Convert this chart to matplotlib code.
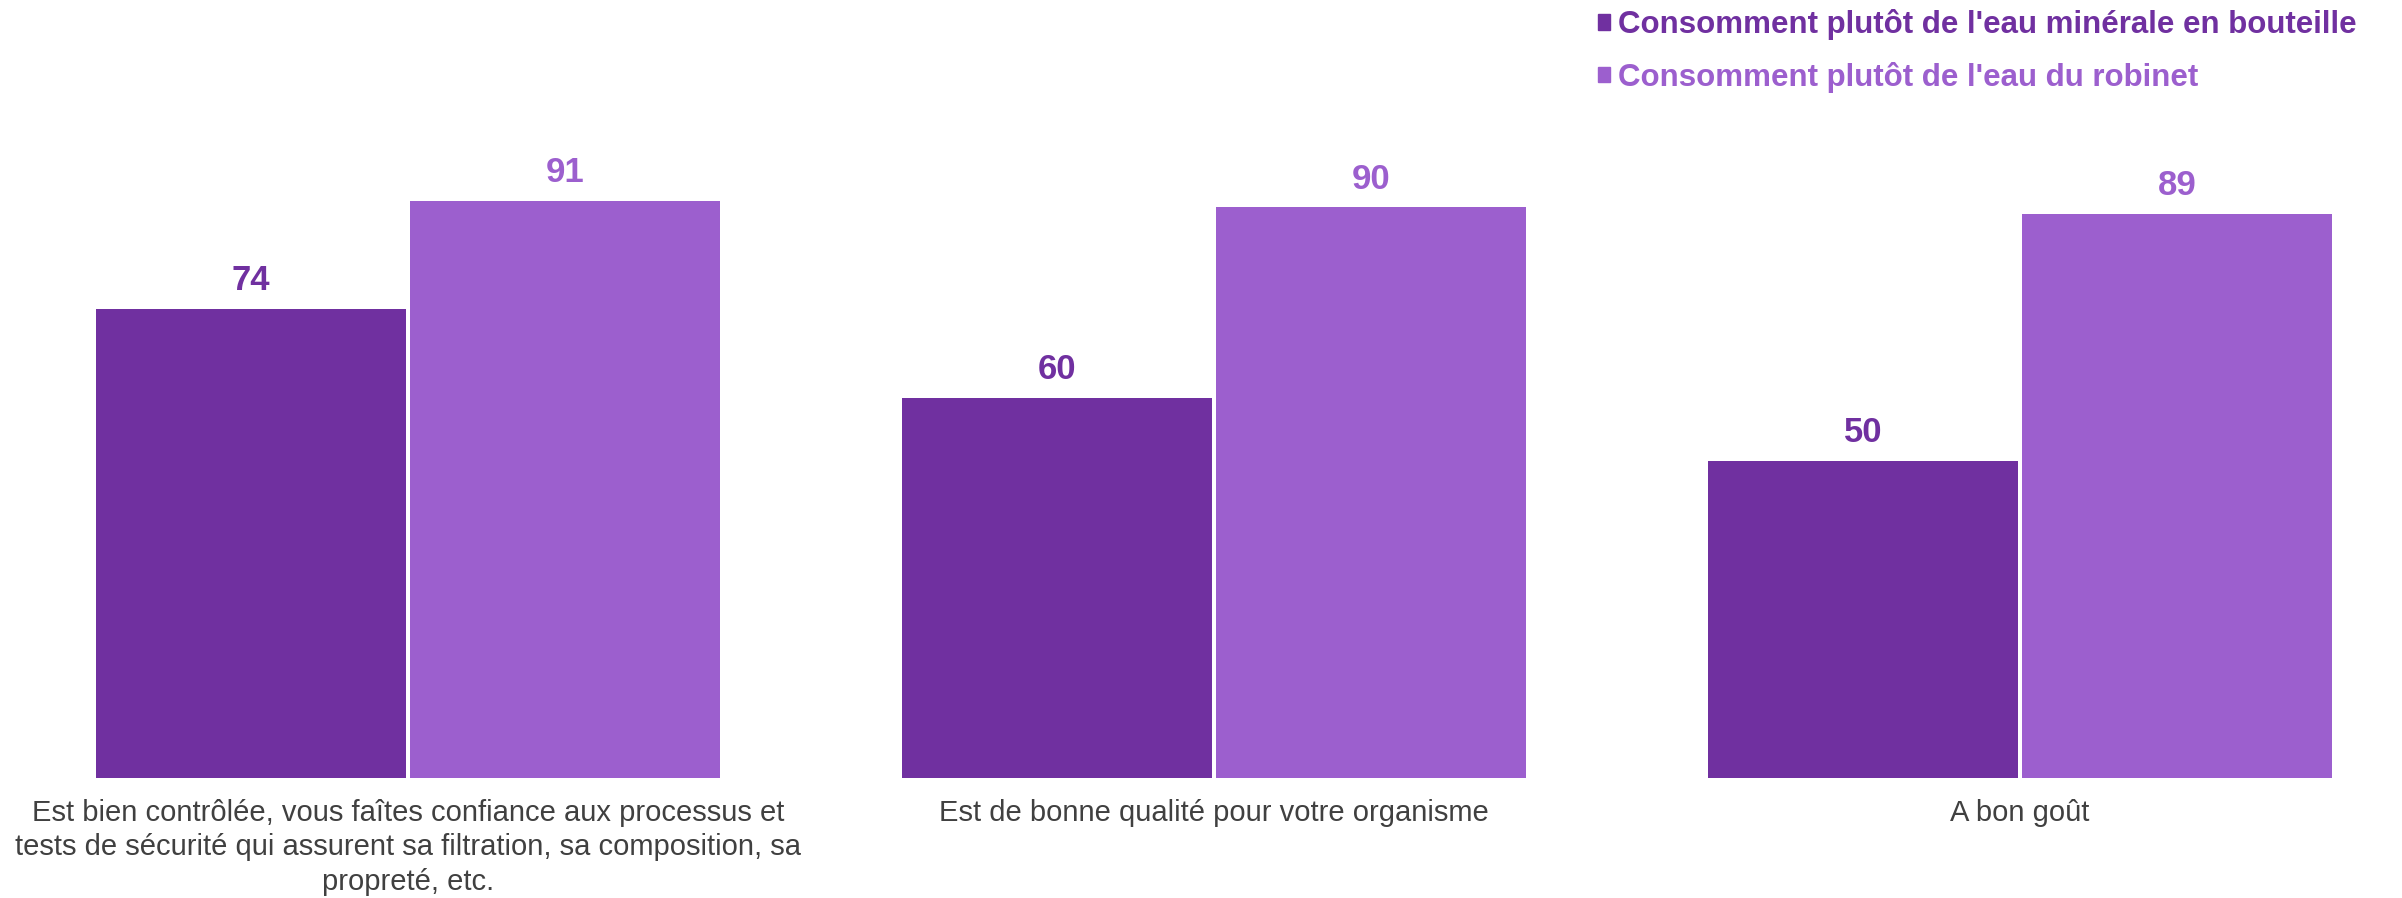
import numpy as np
import matplotlib
matplotlib.use("Agg")
from matplotlib import pyplot as plt
from matplotlib.patches import Patch

plt.rcParams['font.family'] = ['Liberation Sans', 'DejaVu Sans']

# %% donnees
categories = ["Est bien contrôlée, vous faîtes confiance aux processus et\n"
              "tests de sécurité qui assurent sa filtration, sa composition, sa\n"
              "propreté, etc.",
              "Est de bonne qualité pour votre organisme",
              "A bon goût"]
series_names = ["Consomment plutôt de l'eau minérale en bouteille",
                "Consomment plutôt de l'eau du robinet"]
bouteille = [74, 60, 50]
robinet = [91, 90, 89]

col_dark = "#7030A0"
col_light = "#9C5FCE"
col_text = "#404040"

# %% figure
fig = plt.figure(figsize=(24.02, 8.98), dpi=100)
ax = fig.add_axes([0, 120 / 898, 1, 634 / 898])

x = np.arange(len(categories))
w = 0.385
off = 0.1945

b1 = ax.bar(x - off, bouteille, w, color=col_dark)
b2 = ax.bar(x + off, robinet, w, color=col_light)

ax.bar_label(b1, padding=8.5, fontsize=25, fontweight='bold', color=col_dark)
ax.bar_label(b2, padding=8.5, fontsize=25, fontweight='bold', color=col_light)

ax.set_xlim(-408 / 806, (2402 - 408) / 806)
ax.set_ylim(0, 100)
ax.set_xticks(x)
ax.set_xticklabels(categories, fontsize=21, color=col_text, linespacing=1.3)
ax.tick_params(axis='x', length=0, pad=15)
ax.set_yticks([])
for s in ax.spines.values():
    s.set_visible(False)

handles = [Patch(color=col_dark), Patch(color=col_light)]
leg = fig.legend(handles, series_names, loc='upper left',
                 bbox_to_anchor=(1598 / 2402, 1 - 9 / 898),
                 frameon=False, borderpad=0, borderaxespad=0,
                 handlelength=0.38, handleheight=0.38, handletextpad=0.25,
                 labelspacing=0.7, prop={'size': 22.5, 'weight': 'bold'})
for t, c in zip(leg.get_texts(), [col_dark, col_light]):
    t.set_color(c)

fig.savefig("out.png", dpi=100)
